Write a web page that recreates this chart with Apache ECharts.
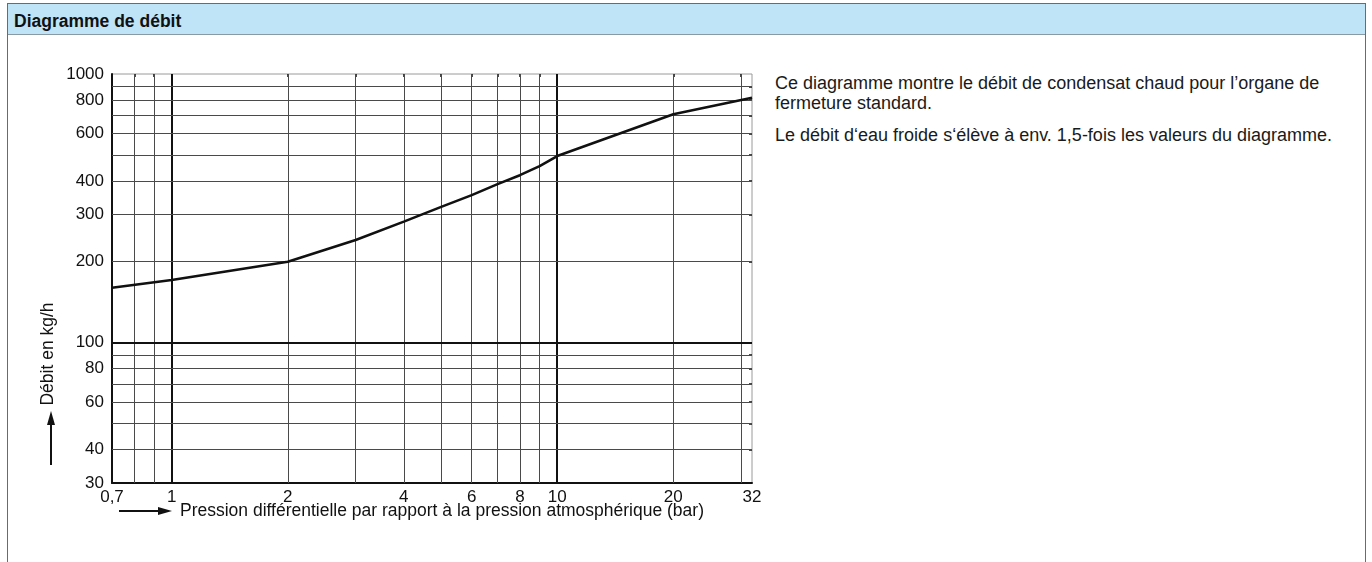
<!DOCTYPE html>
<html>
<head>
<meta charset="utf-8">
<script src="https://cdn.jsdelivr.net/npm/echarts@6/dist/echarts.min.js"></script>
<style>
  html, body { margin: 0; padding: 0; background: #fff; }
  body { width: 1372px; height: 562px; position: relative; overflow: hidden;
         font-family: "Liberation Sans", Arial, sans-serif; }
  #panel { position: absolute; left: 7px; top: 3px; width: 1359px; height: 570px;
           border: 1px solid #6b6b6b; border-bottom: none; box-sizing: border-box; }
  #head { position: absolute; left: 0; top: 0; right: 0; height: 30px;
          background: #bfe4f8; border-bottom: 1px solid #8a9aa4; }
  #head span { position: absolute; left: 6px; top: 7px; font-weight: bold; font-size: 17.5px; color: #111; }
  #note { position: absolute; left: 775px; top: 73px; font-size: 18px; color: #1a1a1a; line-height: 20px; }
  #note p { margin: 0 0 12px 0; }
  #chart { position: absolute; left: 8px; top: 34px; width: 770px; height: 528px; }
</style>
</head>
<body>
<div id="panel"><div id="head"><span>Diagramme de débit</span></div></div>
<div id="note">
  <p>Ce diagramme montre le débit de condensat chaud pour l’organe de<br>fermeture standard.</p>
  <p>Le débit d‘eau froide s‘élève à env. 1,5-fois les valeurs du diagramme.</p>
</div>
<div id="chart"></div>
<script>
// Differential pressure (bar) and hot-condensate flow (kg/h)
const pressure = [0.7, 1, 2, 3, 4, 5, 6, 7, 8, 9, 10, 20, 32];
const flow     = [160, 171, 200, 241, 282, 320, 354, 389, 420, 454, 495, 708, 816];

// Log-scale grid and labelled ticks
const xGrid   = [0.8, 0.9, 1, 2, 3, 4, 5, 6, 7, 8, 9, 10, 20, 30];
const xMajor  = [1, 10];
const xLabels = [0.7, 1, 2, 4, 6, 8, 10, 20, 32];
const yGrid   = [40, 50, 60, 70, 80, 90, 100, 200, 300, 400, 500, 600, 700, 800, 900];
const yMajor  = [100];
const yLabels = [30, 40, 60, 80, 100, 200, 300, 400, 600, 800, 1000];

const FONT = '"Liberation Sans", Arial, sans-serif';
const nearest = (list, v) => list.reduce((a, b) => Math.abs(b - v) < Math.abs(a - v) ? b : a);

const gridLines = [];
xGrid.forEach(v => gridLines.push({
  xAxis: v,
  lineStyle: xMajor.includes(v) ? { type: 'solid', color: '#111', width: 2 } : { type: 'solid', color: '#4a4a4a', width: 1 }
}));
yGrid.forEach(v => gridLines.push({
  yAxis: v,
  lineStyle: yMajor.includes(v) ? { type: 'solid', color: '#111', width: 2 } : { type: 'solid', color: '#4a4a4a', width: 1 }
}));

// Small inward ticks along the top and right frame
const frameAxis = (grid) => ({
  type: 'log', logBase: 10,
  axisLine: { show: false },
  axisTick: { show: true, inside: true, length: 3, customValues: grid, lineStyle: { color: '#111', width: 1.5 } },
  axisLabel: { show: false },
  splitLine: { show: false }
});

const chart = echarts.init(document.getElementById('chart'), null, { renderer: 'canvas' });
chart.setOption({
  animation: false,
  grid: { left: 104, top: 40, width: 640, height: 409, show: true,
          borderColor: '#9a9a9a', borderWidth: 1, backgroundColor: 'transparent' },
  xAxis: [{
    type: 'log', logBase: 10, min: 0.7, max: 32,
    axisLine: { show: true, onZero: false, lineStyle: { color: '#111', width: 2 } },
    axisTick: { show: false },
    splitLine: { show: false },
    minorSplitLine: { show: false },
    axisLabel: {
      customValues: xLabels, margin: 6, color: '#111', fontSize: 17, fontFamily: FONT,
      formatter: v => String(nearest(xLabels, v)).replace('.', ',')
    }
  }, Object.assign(frameAxis(xGrid), { position: 'top', min: 0.7, max: 32 })],
  yAxis: [{
    type: 'log', logBase: 10, min: 30, max: 1000,
    axisLine: { show: true, onZero: false, lineStyle: { color: '#111', width: 2 } },
    axisTick: { show: false },
    splitLine: { show: false },
    minorSplitLine: { show: false },
    axisLabel: {
      customValues: yLabels, margin: 8, color: '#111', fontSize: 17, fontFamily: FONT,
      formatter: v => String(nearest(yLabels, v))
    }
  }, Object.assign(frameAxis(yGrid), { position: 'right', min: 30, max: 1000 })],
  series: [
    {
      type: 'line', data: [], z: 1, silent: true,
      markLine: { silent: true, symbol: 'none', label: { show: false }, animation: false, data: gridLines }
    },
    {
      type: 'line', z: 5,
      data: pressure.map((p, i) => [p, flow[i]]),
      showSymbol: false, symbol: 'none',
      lineStyle: { color: '#111', width: 2.6 }
    }
  ],
  graphic: [
    { type: 'text', x: 40, y: 320, rotation: Math.PI / 2,
      style: { text: 'Débit en kg/h', font: '17.5px ' + FONT, fill: '#111', align: 'center', verticalAlign: 'middle' } },
    { type: 'line', shape: { x1: 43, y1: 388, x2: 43, y2: 431 }, style: { stroke: '#111', lineWidth: 2 } },
    { type: 'polygon', shape: { points: [[43, 377], [39, 391], [47, 391]] }, style: { fill: '#111' } },
    { type: 'line', shape: { x1: 111, y1: 477, x2: 152, y2: 477 }, style: { stroke: '#111', lineWidth: 2 } },
    { type: 'polygon', shape: { points: [[164, 477], [150, 473], [150, 481]] }, style: { fill: '#111' } },
    { type: 'text', x: 172, y: 477,
      style: { text: 'Pression différentielle par rapport à la pression atmosphérique (bar)',
               font: '17.5px ' + FONT, fill: '#111', align: 'left', verticalAlign: 'middle' } }
  ]
});
</script>
</body>
</html>
